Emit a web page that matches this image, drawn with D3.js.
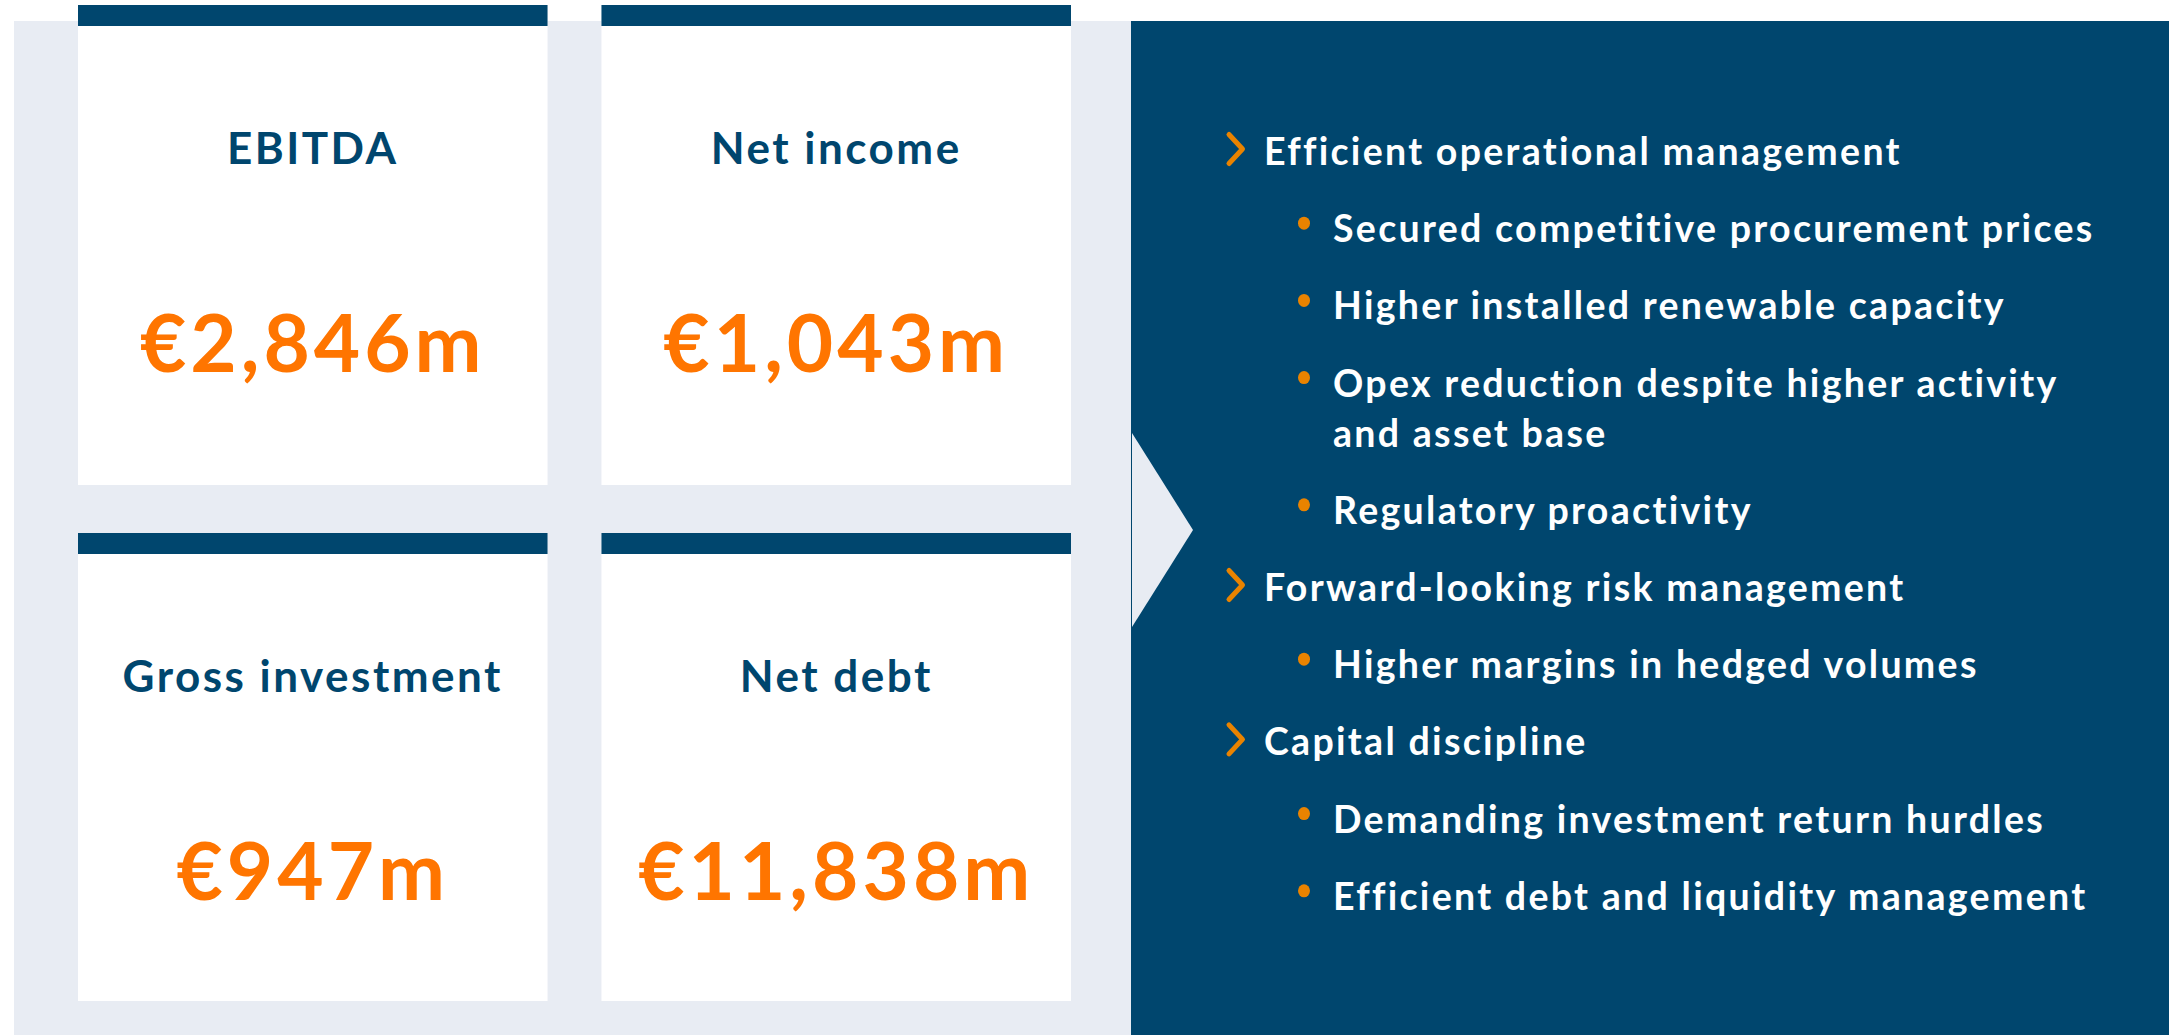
<!DOCTYPE html>
<html>
<head>
<meta charset="utf-8">
<script src="https://cdn.jsdelivr.net/npm/d3@7"></script>
<style>
  body { margin: 0; background: #fff; }
  text { font-family: Lato, "Noto Sans", sans-serif; font-weight: 700; }
</style>
</head>
<body>
<div id="chart"></div>
<script>
// KPI tiles
var kpiLabels = ["EBITDA", "Net income", "Gross investment", "Net debt"];
var kpiValues = [2846, 1043, 947, 11838];

// Drivers panel
var drivers = ["Efficient operational management", "Forward-looking risk management", "Capital discipline"];
var driverItems = [
	["Secured competitive procurement prices",
	 "Higher installed renewable capacity",
	 "Opex reduction despite higher activity\nand asset base",
	 "Regulatory proactivity"],
	["Higher margins in hedged volumes"],
	["Demanding investment return hurdles",
	 "Efficient debt and liquidity management"]
];

// Drawing constants
var W = 2169, H = 1035;
var NAVY = "#00466e";
var GREY = "#e8ecf3";
var ORANGE = "#ff7500";
var CHEV = "#e98300";
var BAR_H = 21;
var STEP = 77.2;   // distance between list entries
var WRAP = 50;     // extra line inside an entry

var fmt = function(v) { return "\u20ac" + d3.format(",")(v) + "m"; };

var svg = d3.select("#chart").append("svg")
	.attr("width", W)
	.attr("height", H);

// light grey backdrop behind the tiles
svg.append("rect")
	.attr("x", 14).attr("y", 21)
	.attr("width", 1117).attr("height", H - 21)
	.attr("fill", GREY);

// tile grid
var col = d3.scaleBand().domain([0, 1]).range([78, 1071]).paddingInner(0.103);
var rowTop = [5, 533];
var rowH = [480, 468];

var tiles = kpiLabels.map(function(l, i) {
	return {label: l, value: kpiValues[i], c: i % 2, r: Math.floor(i / 2)};
});

var tile = svg.selectAll(".tile")
	.data(tiles)
	.enter()
	.append("g")
	.attr("class", "tile")
	.attr("transform", function(d) { return "translate(" + col(d.c) + "," + rowTop[d.r] + ")"; });

tile.append("rect")
	.attr("width", col.bandwidth())
	.attr("height", function(d) { return rowH[d.r]; })
	.attr("fill", "#fff");

tile.append("rect")
	.attr("width", col.bandwidth())
	.attr("height", BAR_H)
	.attr("fill", NAVY);

tile.append("text")
	.attr("x", col.bandwidth() / 2)
	.attr("y", 159)
	.attr("text-anchor", "middle")
	.attr("font-size", 44)
	.attr("letter-spacing", 2.5)
	.attr("fill", NAVY)
	.text(function(d) { return d.label; });

tile.append("text")
	.attr("x", col.bandwidth() / 2)
	.attr("y", 367)
	.attr("text-anchor", "middle")
	.attr("font-size", 80)
	.attr("letter-spacing", 4)
	.attr("fill", ORANGE)
	.text(function(d) { return fmt(d.value); });

// navy panel on the right with the arrow notch
svg.append("rect")
	.attr("x", 1131).attr("y", 21)
	.attr("width", W - 1131).attr("height", H - 21)
	.attr("fill", NAVY);

svg.append("path")
	.attr("d", d3.line()([[1132, 433], [1193, 530], [1132, 627]]) + "Z")
	.attr("fill", GREY);

// flatten the list so every entry gets its own baseline
var rows = [];
var y = 165;
drivers.forEach(function(h, i) {
	rows.push({kind: "head", lines: [h], y: y});
	y += STEP;
	driverItems[i].forEach(function(t) {
		var lines = t.split("\n");
		rows.push({kind: "item", lines: lines, y: y});
		y += STEP + (lines.length - 1) * WRAP;
	});
});

var entry = svg.selectAll(".entry")
	.data(rows)
	.enter()
	.append("g")
	.attr("class", "entry")
	.attr("transform", function(d) { return "translate(0," + d.y + ")"; });

entry.filter(function(d) { return d.kind == "head"; })
	.append("path")
	.attr("d", d3.line()([[1229, -30.5], [1242.5, -16], [1229, -1.5]]))
	.attr("fill", "none")
	.attr("stroke", CHEV)
	.attr("stroke-width", 5)
	.attr("stroke-linecap", "round")
	.attr("stroke-linejoin", "round");

entry.filter(function(d) { return d.kind == "item"; })
	.append("ellipse")
	.attr("cx", 1304)
	.attr("cy", -19)
	.attr("rx", 6)
	.attr("ry", 6.5)
	.attr("fill", CHEV);

var label = entry.append("text")
	.attr("x", function(d) { return d.kind == "head" ? 1264 : 1333; })
	.attr("font-size", 37.5)
	.attr("letter-spacing", 2.3)
	.attr("fill", "#fff");

label.selectAll("tspan")
	.data(function(d) { return d.lines.map(function(l) { return {t: l, d: d}; }); })
	.enter()
	.append("tspan")
	.attr("x", function(s) { return s.d.kind == "head" ? 1264 : 1333; })
	.attr("dy", function(s, i) { return i == 0 ? 0 : WRAP; })
	.text(function(s) { return s.t; });
</script>
</body>
</html>
